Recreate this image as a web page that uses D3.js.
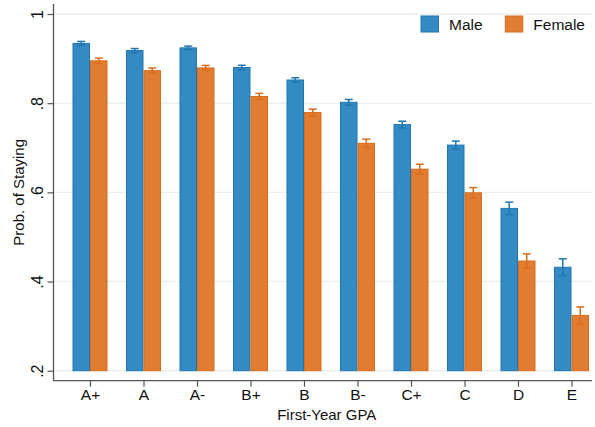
<!DOCTYPE html>
<html>
<head>
<meta charset="utf-8">
<script src="https://cdn.jsdelivr.net/npm/d3@7"></script>
<style>
  body { margin: 0; background: #fff; }
  text { font-family: "Liberation Sans", Arial, sans-serif; fill: #111; }
</style>
</head>
<body>
<svg></svg>
<script>
let grades = ["A+", "A", "A-", "B+", "B", "B-", "C+", "C", "D", "E"]
let maleMean = [0.934, 0.918, 0.924, 0.880, 0.852, 0.802, 0.752, 0.706, 0.564, 0.432]
let maleErr = [0.0045, 0.0045, 0.004, 0.005, 0.005, 0.0063, 0.0075, 0.009, 0.014, 0.019]
let femaleMean = [0.895, 0.873, 0.879, 0.815, 0.779, 0.710, 0.652, 0.599, 0.446, 0.324]
let femaleErr = [0.006, 0.006, 0.0056, 0.007, 0.0075, 0.0093, 0.011, 0.0117, 0.016, 0.019]
let yTicks = [0.2, 0.4, 0.6, 0.8, 1]
let yTickLabels = [".2", ".4", ".6", ".8", "1"]
let seriesNames = ["Male", "Female"]

let width = 595
let height = 427
let plotLeft = 53.5
let plotRight = 592
let plotTop = 4
let plotBottom = 380.7

let colors = {
  Male: { fill: "#348ac2", edge: "#1f77b4" },
  Female: { fill: "#e07d32", edge: "#dc6c18" }
}

let svg = d3.select("svg").attr("width", width).attr("height", height)

let xScale = d3.scalePoint().domain(grades).range([90, 571.5])
let yScale = d3.scaleLinear().domain([0.2, 1]).range([370.7, 14])
let barW = xScale.step() * 0.327

// gridlines
svg.append("g")
   .selectAll("line")
   .data(yTicks)
   .enter()
   .append("line")
   .attr("x1", plotLeft)
   .attr("x2", plotRight)
   .attr("y1", d => yScale(d))
   .attr("y2", d => yScale(d))
   .attr("stroke", "#eaeff0")
   .attr("stroke-width", 1.4)

let series = [
  { name: "Male", mean: maleMean, err: maleErr, offset: -1 },
  { name: "Female", mean: femaleMean, err: femaleErr, offset: 0 }
]

series.forEach(s => {
  let g = svg.append("g")
  let rows = grades.map((gr, i) => ({ gr: gr, v: s.mean[i], e: s.err[i] }))

  g.selectAll("rect")
   .data(rows)
   .enter()
   .append("rect")
   .attr("x", d => xScale(d.gr) + s.offset * barW + 0.5)
   .attr("width", barW - 1)
   .attr("y", d => yScale(d.v))
   .attr("height", d => yScale(0.2) - yScale(d.v))
   .attr("fill", colors[s.name].fill)
   .attr("stroke", colors[s.name].edge)
   .attr("stroke-width", 1)

  let cx = d => xScale(d.gr) + s.offset * barW + barW / 2
  let eb = g.selectAll(".eb")
            .data(rows)
            .enter()
            .append("g")
            .attr("stroke", colors[s.name].edge)
            .attr("stroke-width", 1.5)
  eb.append("line")
    .attr("x1", cx).attr("x2", cx)
    .attr("y1", d => yScale(d.v + d.e)).attr("y2", d => yScale(d.v - d.e))
  eb.append("line")
    .attr("x1", d => cx(d) - 4).attr("x2", d => cx(d) + 4)
    .attr("y1", d => yScale(d.v + d.e)).attr("y2", d => yScale(d.v + d.e))
  eb.append("line")
    .attr("x1", d => cx(d) - 4).attr("x2", d => cx(d) + 4)
    .attr("y1", d => yScale(d.v - d.e)).attr("y2", d => yScale(d.v - d.e))
})

// axes
let yAxis = d3.axisLeft(yScale)
              .tickValues(yTicks)
              .tickSize(6)
              .tickFormat((d, i) => yTickLabels[i])
let yg = svg.append("g")
            .attr("transform", `translate(${plotLeft}, 0)`)
            .call(yAxis)
yg.select(".domain").remove()
yg.selectAll(".tick line").attr("stroke", "#555").attr("stroke-width", 1.2)
yg.selectAll(".tick text")
  .attr("x", 0).attr("dy", 0)
  .attr("transform", "translate(-11, 0) rotate(-90)")
  .attr("text-anchor", "middle")
  .style("font-size", "16px")
  .style("font-family", "Liberation Sans, Arial, sans-serif")
  .attr("fill", "#111")

let xAxis = d3.axisBottom(xScale).tickSize(6)
let xg = svg.append("g")
            .attr("transform", `translate(0, ${plotBottom})`)
            .call(xAxis)
xg.select(".domain").remove()
xg.selectAll(".tick line").attr("stroke", "#555").attr("stroke-width", 1.2)
xg.selectAll(".tick text")
  .attr("y", 19.5)
  .attr("dy", 0)
  .style("font-size", "15.5px")
  .style("font-family", "Liberation Sans, Arial, sans-serif")
  .attr("fill", "#111")

svg.append("line")
   .attr("x1", plotLeft).attr("x2", plotLeft)
   .attr("y1", plotTop).attr("y2", plotBottom)
   .attr("stroke", "#555").attr("stroke-width", 1.3)
svg.append("line")
   .attr("x1", plotLeft).attr("x2", plotRight)
   .attr("y1", plotBottom).attr("y2", plotBottom)
   .attr("stroke", "#555").attr("stroke-width", 1.3)

// titles
svg.append("text")
   .attr("x", (plotLeft + plotRight) / 2 + 4)
   .attr("y", 420)
   .attr("text-anchor", "middle")
   .style("font-size", "15px")
   .text("First-Year GPA")
svg.append("text")
   .attr("transform", `translate(23.5, ${(plotTop + plotBottom) / 2}) rotate(-90)`)
   .attr("text-anchor", "middle")
   .style("font-size", "15px")
   .text("Prob. of Staying")

// legend
let legX = [421, 505.3]
seriesNames.forEach((name, i) => {
  svg.append("rect")
     .attr("x", legX[i]).attr("y", 16)
     .attr("width", 17.5).attr("height", 16)
     .attr("fill", colors[name].fill)
     .attr("stroke", colors[name].edge)
  svg.append("text")
     .attr("x", legX[i] + 28).attr("y", 29.5)
     .style("font-size", "15.5px")
     .text(name)
})
</script>
</body>
</html>
